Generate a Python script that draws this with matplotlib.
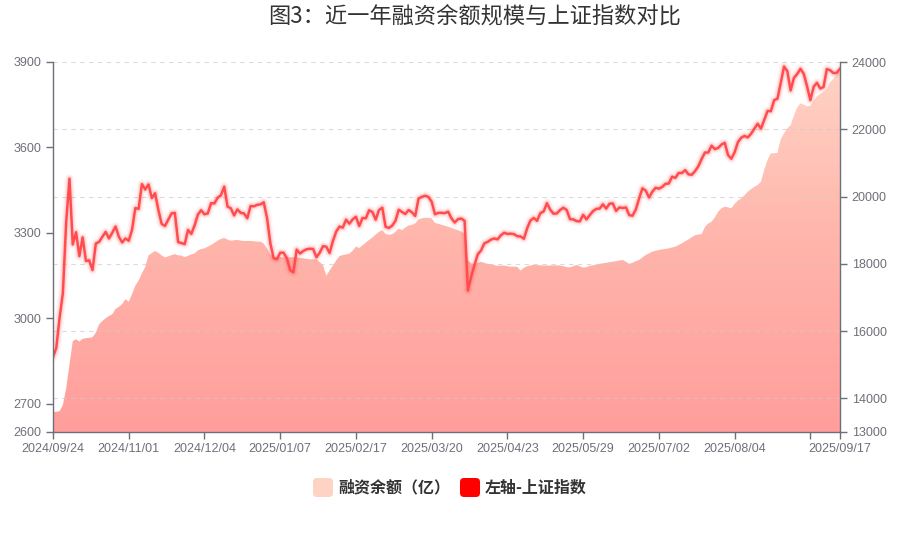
import numpy as np
import matplotlib
matplotlib.use("Agg")
import matplotlib.pyplot as plt
from matplotlib.patches import FancyBboxPatch
from matplotlib.colors import LinearSegmentedColormap

plt.rcParams['font.family'] = ['Liberation Sans', 'Noto Sans CJK SC', 'DejaVu Sans']
CJK = ['Noto Sans CJK SC', 'DejaVu Sans']

# 上证指数（左轴），每个交易日一个点
sse = [
    2863, 2896, 3001, 3088, 3337,
    3490, 3259, 3302, 3218, 3284, 3201, 3203, 3169, 3262, 3268, 3286, 3303, 3280, 3300, 3322, 3286, 3266, 3280,
    3272, 3310, 3387, 3384, 3471, 3452, 3470, 3422, 3439, 3380, 3331, 3324, 3346, 3368, 3370, 3267, 3264, 3260, 3310, 3296, 3326,
    3364, 3379, 3365, 3368, 3404, 3403, 3423, 3432, 3462, 3392, 3386, 3361, 3382, 3370, 3368, 3351, 3394, 3393, 3398, 3400, 3407, 3352,
    3263, 3211, 3207, 3230, 3230, 3211, 3169, 3161, 3241, 3227, 3236, 3242, 3244, 3243, 3214, 3230, 3253, 3251,
    3229, 3271, 3304, 3322, 3318, 3346, 3332, 3347, 3356, 3324, 3352, 3351, 3379, 3373, 3346, 3380, 3388, 3321,
    3317, 3325, 3342, 3381, 3373, 3366, 3380, 3372, 3359, 3420, 3426, 3430, 3426, 3409, 3365, 3370, 3370, 3369, 3374, 3351, 3336,
    3348, 3350, 3342, 3097, 3146, 3187, 3224, 3238, 3263, 3268, 3276, 3280, 3277, 3291, 3300, 3296, 3297, 3295, 3288, 3287, 3279,
    3316, 3343, 3352, 3342, 3369, 3375, 3404, 3381, 3367, 3368, 3380, 3388, 3380, 3348, 3347, 3341, 3340, 3363, 3347,
    3362, 3376, 3384, 3385, 3400, 3385, 3402, 3403, 3377, 3389, 3387, 3389, 3362, 3360, 3382, 3421, 3456, 3448, 3424, 3444,
    3458, 3455, 3461, 3472, 3473, 3497, 3493, 3510, 3510, 3520, 3505, 3504, 3517, 3534, 3560, 3582, 3582, 3606, 3594, 3598, 3610, 3616, 3573,
    3560, 3583, 3618, 3634, 3640, 3635, 3648, 3666, 3683, 3666, 3697, 3728, 3727, 3766, 3771, 3826, 3884, 3868, 3800, 3844, 3858,
    3876, 3858, 3814, 3766, 3813, 3827, 3807, 3812, 3875, 3871, 3861, 3862, 3876,
]

# 融资余额（亿，右轴）
margin = [
    13600, 13600, 13620, 13800, 14300, 15000, 15700, 15760, 15690, 15770,
    15790, 15800, 15820, 15950, 16200, 16300, 16380, 16450, 16500, 16660,
    16720, 16800, 16950, 16870, 17100, 17350, 17500, 17720, 17900, 18250,
    18320, 18380, 18330, 18250, 18190, 18220, 18260, 18290, 18250, 18240,
    18200, 18240, 18280, 18310, 18400, 18440, 18460, 18510, 18560, 18620,
    18690, 18740, 18770, 18720, 18690, 18700, 18710, 18690, 18680, 18680,
    18680, 18670, 18660, 18660, 18600, 18460, 18280, 18220, 18200, 18200,
    18190, 18195, 18195, 18195, 18190, 18180, 18165, 18150, 18135, 18135,
    18130, 18050, 17960, 17640, 17800, 17950, 18100, 18230, 18260, 18280,
    18300, 18390, 18510, 18470, 18550, 18630, 18710, 18780, 18870, 18950,
    19000, 18890, 18860, 18880, 18950, 19050, 19000, 19080, 19140, 19160,
    19200, 19320, 19350, 19370, 19370, 19350, 19220, 19190, 19160, 19130,
    19100, 19070, 19030, 19000, 18960, 18900, 18110, 18010, 17995, 18030,
    18060, 18030, 18000, 17990, 17960, 17940, 17950, 17950, 17930, 17915,
    17915, 17910, 17800, 17880, 17930, 17950, 17965, 17960, 17955, 17950,
    17950, 17950, 17955, 17955, 17950, 17930, 17900, 17895, 17930, 17965,
    17930, 17885, 17900, 17940, 17955, 17975, 18000, 18015, 18030, 18050,
    18063, 18080, 18100, 18114, 18060, 18000, 18030, 18080, 18114, 18190,
    18262, 18310, 18361, 18390, 18410, 18431, 18445, 18461, 18485, 18510,
    18560, 18609, 18670, 18728, 18790, 18850, 18870, 18886, 19100, 19200,
    19253, 19380, 19550, 19651, 19698, 19680, 19651, 19780, 19880, 19948,
    20040, 20144, 20220, 20290, 20343, 20442, 20800, 21087, 21286, 21286,
    21300, 21700, 21880, 22030, 22120, 22400, 22650, 22772, 22730, 22680,
    22700, 22850, 22980, 23050, 23120, 23200, 23400, 23500, 23650, 23712,
]

# x 轴标签，每 23 个交易日一个，最后一个为末日
tick_labels = ['2024/09/24', '2024/11/01', '2024/12/04', '2025/01/07', '2025/02/17',
               '2025/03/20', '2025/04/23', '2025/05/29', '2025/07/02', '2025/08/04', '']
last_label = '2025/09/17'
label_step = 23

left_ticks = [2600, 2700, 3000, 3300, 3600, 3900]
right_ticks = [13000, 14000, 16000, 18000, 20000, 22000, 24000]

axis_color = '#6E7079'

x = np.arange(len(sse))
n = len(sse)

fig = plt.figure(figsize=(9, 5.38), dpi=100)
ax = fig.add_axes([53 / 900, 106 / 538, 787 / 900, 370 / 538])
ax2 = ax.twinx()

# 面积图（渐变）
poly = ax2.fill_between(x, margin, 13000, facecolor='none', edgecolor='none')
cmap = LinearSegmentedColormap.from_list('area', ['#FF9E9C', '#FFB4AA', '#FFD4C6'])
grad = np.linspace(0, 1, 256).reshape(-1, 1)
im = ax2.imshow(grad, extent=[0, n - 1, 13000, 24000], origin='lower', aspect='auto',
                cmap=cmap, zorder=1)
im.set_clip_path(poly.get_paths()[0], transform=ax2.transData)

# 网格线
for v in right_ticks[1:]:
    ax2.axhline(v, color='#CCCCCC', lw=0.8, ls=(0, (4, 4)), alpha=0.7, zorder=2)

ax2.set_ylim(13000, 24000)
ax2.set_xlim(0, n - 1)

# 上证指数折线，带发光效果
ax.set_zorder(ax2.get_zorder() + 1)
ax.patch.set_visible(False)
for lw, a in [(7, 0.04), (5, 0.07), (3.5, 0.12)]:
    ax.plot(x, sse, color='#FF3030', lw=lw, alpha=a, solid_capstyle='round', solid_joinstyle='round')
ax.plot(x, sse, color='#FF4D4F', lw=1.8, solid_joinstyle='round')
ax.set_ylim(2600, 3900)
ax.set_xlim(0, n - 1)

# 轴样式
ax.set_yticks(left_ticks)
ax2.set_yticks(right_ticks)
xt = list(range(0, n, label_step)) + [n - 1]
ax.set_xticks(xt)
ax.set_xticklabels(tick_labels + [last_label])
for a in (ax, ax2):
    for s in a.spines.values():
        s.set_visible(False)
ax.spines['left'].set_visible(True)
ax.spines['bottom'].set_visible(True)
ax2.spines['right'].set_visible(True)
for s in [ax.spines['left'], ax.spines['bottom'], ax2.spines['right']]:
    s.set_color(axis_color)
    s.set_linewidth(1)
ax.tick_params(axis='both', colors=axis_color, labelcolor=axis_color, labelsize=9, length=5, width=1)
ax2.tick_params(axis='y', colors=axis_color, labelcolor=axis_color, labelsize=9, length=5, width=1)
ax.tick_params(axis='x', pad=3)

# 标题
fig.text(475 / 900, 1 - 16 / 538, '图3：近一年融资余额规模与上证指数对比', ha='center', va='center',
         fontsize=16, color='#333333', family=CJK)

# 图例
fig.add_artist(FancyBboxPatch((313, 538 - 497), 20, 19, boxstyle='round,pad=0,rounding_size=4',
                              transform=None, facecolor='#FFD3C4', edgecolor='none'))
fig.text(338 / 900, 1 - 487.5 / 538, '融资余额（亿）', ha='left', va='center', fontsize=11.5,
         weight='bold', color='#333333', family=CJK)
fig.add_artist(FancyBboxPatch((460, 538 - 497), 20, 19, boxstyle='round,pad=0,rounding_size=4',
                              transform=None, facecolor='#FF0000', edgecolor='none'))
fig.text(485 / 900, 1 - 487.5 / 538, '左轴-上证指数', ha='left', va='center', fontsize=11.5,
         weight='bold', color='#333333', family=CJK)

fig.savefig('out.png', dpi=100)
